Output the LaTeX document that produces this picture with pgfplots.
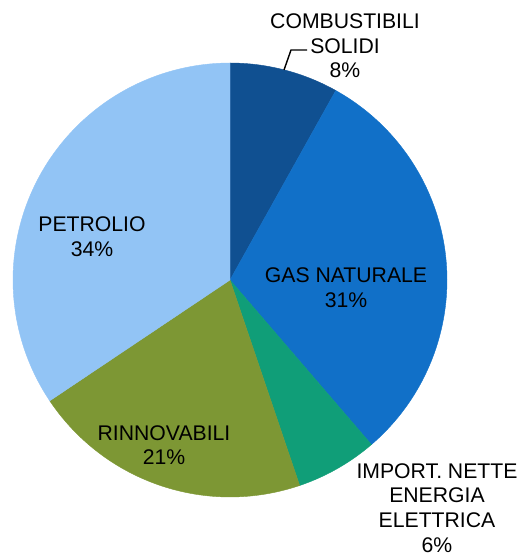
\documentclass[border=0pt]{standalone}
\usepackage{pgfplots}
\pgfplotsset{compat=1.18}
\usepackage{fontspec}
\setmainfont{Liberation Sans}

\definecolor{cComb}{RGB}{16,80,145}
\definecolor{cGas}{RGB}{17,112,200}
\definecolor{cImp}{RGB}{16,158,120}
\definecolor{cRin}{RGB}{125,151,52}
\definecolor{cPet}{RGB}{146,196,245}

\begin{document}
\begin{tikzpicture}
\begin{axis}[
    hide axis,
    scale only axis,
    width=261.5pt, height=278pt,
    xmin=0, xmax=523, ymin=0, ymax=556,
    clip=false,
]
\path (0,0) rectangle (523,556);
% shares in percent, clockwise from 12 o'clock
\gdef\cum{0}
\foreach \v/\c in {8.1/cComb, 30.6/cGas, 6.1/cImp, 20.8/cRin, 34.4/cPet} {
    \pgfmathsetmacro\aS{90-3.6*\cum}
    \pgfmathsetmacro\aE{90-3.6*(\cum+\v)}
    \edef\doplot{\noexpand\addplot[fill=\c, draw=\c, line width=0.2pt, domain=\aE:\aS, samples=90]
        ({230+217*cos(x)},{276+217*sin(x)}) -- (230,276) -- cycle;}
    \doplot
    \pgfmathsetmacro\newcum{\cum+\v}
    \xdef\cum{\newcum}
}

\begin{scope}[every node/.style={align=center, inner sep=0pt, font=\fontsize{10.6}{12.3}\selectfont}]
\node at (345,510) {COMBUSTIBILI\\SOLIDI\\8\%};
\node at (346,268) {GAS NATURALE\\31\%};
\node at (437,48) {IMPORT. NETTE\\ENERGIA\\ELETTRICA\\6\%};
\node at (164,111) {RINNOVABILI\\21\%};
\node at (92,319) {PETROLIO\\34\%};
\end{scope}
\draw[line width=0.7pt] (284,486) -- (291,506) -- (307,506);
\end{axis}
\end{tikzpicture}
\end{document}
